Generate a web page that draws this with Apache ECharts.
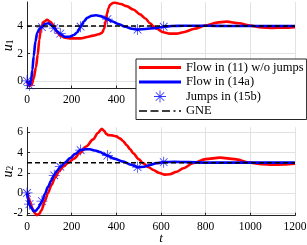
<!DOCTYPE html>
<html>
<head>
<meta charset="utf-8">
<script src="https://cdn.jsdelivr.net/npm/echarts@6/dist/echarts.min.js"></script>
<style>html,body{margin:0;padding:0;background:#fff;}#c{width:307px;height:245px;}</style>
</head>
<body>
<div id="c"></div>
<script>
// ---- data ----
const seriesNames = ['Flow in (11) w/o jumps', 'Flow in (14a)', 'Jumps in (15b)', 'GNE'];
const xTicks = [0, 200, 400, 600, 800, 1000, 1200];

// u1 (top panel)
const redT1 = [0,10,20,30,40,48,55,62,75,90,105,120,135,150,170,190,215,240,270,296,320,336,345,352,358,365,372,385,395,420,446,476,506,530,551,565,580,610,640,670,700,750,797,850,894,950,1000,1050,1100,1150,1200];
const redU1 = [0,-0.35,-0.3,0.2,1.0,1.9,3.0,3.8,4.3,4.45,4.3,4.0,3.55,3.3,3.15,3.1,3.1,3.1,3.2,3.3,3.4,3.5,3.8,4.3,4.9,5.3,5.55,5.68,5.7,5.6,5.45,5.2,4.85,4.55,4.2,4.0,3.8,3.55,3.45,3.45,3.55,3.8,4.03,4.25,4.32,4.2,4.03,3.9,3.86,3.88,3.92];
const blueT1 = [0,6,12,18,24,30,38,46,56,66,80,95,110,122,136,150,170,190,210,225,240,255,270,290,310,330,345,360,380,410,440,470,495,530,570,612,650,700,800,900,1000,1100,1200];
const blueU1 = [0,-0.2,-0.32,0,0.8,1.8,2.9,3.5,3.8,3.92,4.15,4.2,4.05,3.85,3.6,3.4,3.22,3.22,3.35,3.55,3.95,4.35,4.6,4.75,4.78,4.72,4.62,4.5,4.35,4.15,3.95,3.8,3.74,3.78,3.85,3.95,4.0,4.02,4.02,4.0,4.0,4.0,4.0];
const jumpT = [0, 11, 67, 122, 149, 240, 360, 495, 612];
const jumpU1 = [0, -0.32, 3.92, 3.85, 3.45, 3.95, 4.5, 3.74, 3.95];
const gneT = [0, 1200];
const gneU1 = [4, 4];

// u2 (bottom panel)
const redT2 = [0,8,15,25,35,45,55,65,80,94,110,125,145,162,185,210,237,265,296,318,335,345,355,364,380,400,416,430,446,461,476,500,521,545,566,590,615,640,670,700,743,800,864,930,1000,1050,1100,1150,1200];
const redU2 = [0,-0.5,-1.0,-1.6,-2.0,-2.2,-2.05,-1.7,-0.8,0.0,0.8,1.5,2.2,2.6,3.0,3.4,3.95,4.6,5.3,5.95,6.35,6.15,5.85,5.73,5.7,5.6,5.4,5.15,4.75,4.35,3.92,3.35,2.93,2.55,2.27,2.0,1.82,1.85,2.1,2.45,2.95,3.35,3.5,3.35,3.0,2.85,2.8,2.82,2.9];
const blueT2 = [0,5,10,20,30,40,50,60,68,80,94,108,120,135,150,170,193,215,240,260,282,305,327,345,360,390,431,465,497,525,551,580,612,660,720,800,900,1000,1100,1200];
const blueU2 = [0,-0.6,-1.1,-1.5,-1.8,-1.75,-1.5,-1.1,-0.8,-0.1,0.6,1.2,1.75,2.2,2.6,3.0,3.45,3.85,4.25,4.32,4.32,4.2,4.05,3.85,3.7,3.4,3.1,2.8,2.55,2.6,2.77,2.95,3.05,3.08,3.05,3.0,3.0,3.0,3.0,3.0];
const jumpU2 = [0, -1.1, -0.8, 1.75, 2.6, 4.25, 3.7, 2.55, 3.05];
const gneU2 = [3, 3];

// ---- chart ----
const zip = (t, v) => t.map((x, i) => [x, v[i]]);
const FONT = 'Liberation Serif';
const AX = '#262626';
const GRIDC = '#e2e2e2';
const STAR = 'path://M9.3 0L10.7 0L10.7 20L9.3 20ZM0 9.3L20 9.3L20 10.7L0 10.7ZM3.5 2.5L17.5 16.5L16.5 17.5L2.5 3.5ZM16.5 2.5L17.5 3.5L3.5 17.5L2.5 16.5Z';
const LINE_ICON = 'path://M0 0L42 0L42 3L0 3Z';
const DASH_ICON = 'path://M0 0L8 0L8 1.6L0 1.6ZM11.5 0L19.5 0L19.5 1.6L11.5 1.6ZM23 0L31 0L31 1.6L23 1.6ZM34.5 0L36.5 0L36.5 1.6L34.5 1.6ZM40 0L42 0L42 1.6L40 1.6Z';

function xAx(gi, showName) {
  return {
    type: 'value', gridIndex: gi, min: 0, max: 1200, interval: 200,
    axisLine: {show: true, onZero: false, lineStyle: {color: AX, width: 1}},
    axisTick: {show: true, inside: true, length: 3, lineStyle: {color: AX}},
    axisLabel: {color: '#000', fontFamily: FONT, fontSize: 11.5, margin: 5,
      formatter: v => xTicks.indexOf(v) >= 0 ? String(v) : ''},
    splitLine: {show: true, lineStyle: {color: GRIDC, width: 1}},
    name: showName ? 't' : '', nameLocation: 'middle', nameGap: 16, nameMoveOverlap: false,
    nameTextStyle: {fontFamily: FONT, fontStyle: 'italic', fontSize: 13, color: '#000'}
  };
}
function yAx(gi, mn, mx, sub) {
  return {
    type: 'value', gridIndex: gi, min: mn, max: mx, minInterval: 2, maxInterval: 2, splitNumber: 4,
    axisLine: {show: true, onZero: false, lineStyle: {color: AX, width: 1}},
    axisTick: {show: true, inside: true, length: 3, lineStyle: {color: AX}},
    axisLabel: {color: '#000', fontFamily: FONT, fontSize: 11.5, margin: 4,
      showMinLabel: false, showMaxLabel: false,
      formatter: v => (Math.abs(v / 2 - Math.round(v / 2)) < 1e-9) ? String(v) : ''},
    splitLine: {show: true, showMinLine: false, showMaxLine: false, lineStyle: {color: GRIDC, width: 1}},
    name: '{u|u}{s|' + sub + '}', nameLocation: 'middle', nameGap: 12, nameRotate: 90, nameMoveOverlap: false,
    nameTextStyle: {rich: {
      u: {fontFamily: FONT, fontStyle: 'italic', fontSize: 14, color: '#000', verticalAlign: 'bottom', lineHeight: 16},
      s: {fontFamily: FONT, fontSize: 9.5, color: '#000', verticalAlign: 'bottom', lineHeight: 12, padding: [5, 0, 0, 0]}
    }}
  };
}
function panel(idx, redT, redU, blueT, blueU, jumpU, gneU) {
  return [
    {name: seriesNames[0], type: 'line', xAxisIndex: idx, yAxisIndex: idx, data: zip(redT, redU),
      symbol: 'none', showSymbol: false, smooth: 0.3, smoothMonotone: 'x',
      lineStyle: {color: '#ff0000', width: 2.6}, itemStyle: {color: '#ff0000'}},
    {name: seriesNames[1], type: 'line', xAxisIndex: idx, yAxisIndex: idx, data: zip(blueT, blueU),
      symbol: 'none', showSymbol: false, smooth: 0.3, smoothMonotone: 'x',
      lineStyle: {color: '#0000ff', width: 2.6}, itemStyle: {color: '#0000ff'}},
    {name: seriesNames[2], type: 'scatter', xAxisIndex: idx, yAxisIndex: idx, data: zip(jumpT, jumpU),
      symbol: STAR, symbolSize: 11, itemStyle: {color: '#0000ff'}},
    {name: seriesNames[3], type: 'line', xAxisIndex: idx, yAxisIndex: idx, data: zip(gneT, gneU),
      symbol: 'none', showSymbol: false,
      lineStyle: {color: '#000', width: 1.5, type: [5, 3]}, itemStyle: {color: '#000'}}
  ];
}

const chart = echarts.init(document.getElementById('c'), null, {renderer: 'canvas'});
chart.setOption({
  animation: false,
  backgroundColor: '#fff',
  grid: [
    {left: 27, top: 2, width: 268, height: 86.5, containLabel: false, outerBoundsMode: 'none'},
    {left: 27, top: 127.3, width: 268, height: 88.4, containLabel: false, outerBoundsMode: 'none'}
  ],
  xAxis: [xAx(0, false), xAx(1, true)],
  yAxis: [yAx(0, -0.55, 5.75, '1'), yAx(1, -2.25, 6.5, '2')],
  legend: {
    orient: 'vertical', left: 136, top: 59, z: 10,
    itemWidth: 42, itemHeight: 12, itemGap: 1.5, padding: [2, 3, 2, 3],
    backgroundColor: '#fff', borderColor: AX, borderWidth: 1,
    textStyle: {fontFamily: FONT, fontSize: 12.5, color: '#000', lineHeight: 12},
    data: [
      {name: seriesNames[0], icon: LINE_ICON, itemStyle: {color: '#ff0000', borderWidth: 0}},
      {name: seriesNames[1], icon: LINE_ICON, itemStyle: {color: '#0000ff', borderWidth: 0}},
      {name: seriesNames[2], icon: STAR, itemStyle: {color: '#0000ff', borderWidth: 0}},
      {name: seriesNames[3], icon: DASH_ICON, itemStyle: {color: '#000', borderWidth: 0}}
    ]
  },
  series: panel(0, redT1, redU1, blueT1, blueU1, jumpU1, gneU1)
    .concat(panel(1, redT2, redU2, blueT2, blueU2, jumpU2, gneU2))
});
</script>
</body>
</html>
